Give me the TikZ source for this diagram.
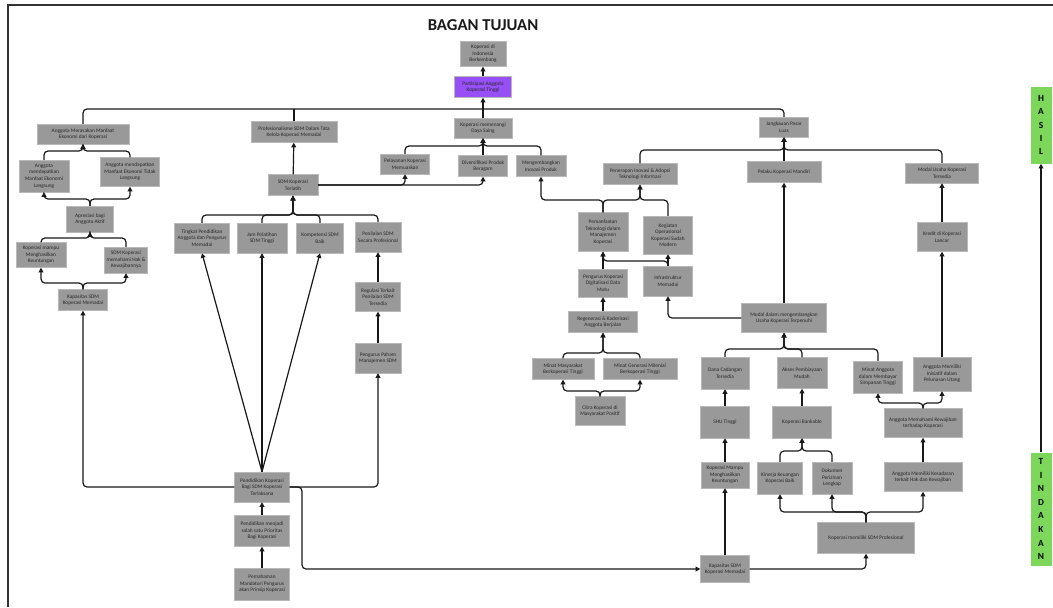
\documentclass[tikz,border=0pt]{standalone}
\usepackage{fontspec}
\setmainfont{Carlito}
\usetikzlibrary{arrows.meta}
\definecolor{boxgray}{RGB}{153,153,153}
\definecolor{boxedge}{RGB}{185,185,185}
\definecolor{purp}{RGB}{150,80,245}
\definecolor{grn}{RGB}{125,215,90}
\definecolor{lncol}{RGB}{25,25,25}
\newcommand\bx[7][boxgray]{\node[box,fill=#1,minimum width=#5*0.75pt,minimum height=#6*0.75pt] (#2) at (#3,#4) {#7};}
\begin{document}
\begin{tikzpicture}[x=0.75pt,y=-0.75pt,
 box/.style={draw=boxedge, line width=0.3pt, align=center, inner sep=0.5pt, font=\fontsize{4}{4.9}\selectfont, text=black!85},
 ln/.style={draw=lncol, line width=0.9pt, rounded corners=3pt},
 arr/.style={ln, -{Triangle[length=3.5pt,width=3.6pt]}},
 side/.style={fill=grn, draw=none, align=center, inner sep=0pt, font=\fontsize{7}{9.9}\selectfont\bfseries, minimum width=21*0.75pt},
]
\useasboundingbox (0,0) rectangle (1053,607);
\fill[white] (0,0) rectangle (1053,607);
\draw[line width=0.8pt, black!80] (8,607) -- (8,5) -- (1053,5);

\node[font=\fontsize{12.5}{14}\selectfont\bfseries, text=black!90] (title) at (483,25) {BAGAN TUJUAN};

% top
\bx{kid}{483}{54}{46}{25}{Koperasi di\\Indonesia\\Berkembang}
\bx[purp]{partis}{483}{87}{57}{21}{Partisipasi Anggota\\Koperasi Tinggi}

% left branch
\bx{meras}{83}{134}{92}{20}{Anggota Merasakan Manfaat\\Ekonomi dari Koperasi}
\bx{manL}{44}{176}{50}{32}{Anggota\\mendapatkan\\Manfaat Ekonomi\\Langsung}
\bx{manTL}{130}{172}{59}{29}{Anggota mendapatkan\\Manfaat Ekonomi Tidak\\Langsung}
\bx{apres}{90}{219}{47}{26}{Apresiasi bagi\\Anggota Aktif}
\bx{mampuL}{41}{255}{50}{25}{Koperasi mampu\\Menghasilkan\\Keuntungan}
\bx{sdmHak}{126}{260}{43}{26}{SDM Koperasi\\memahami Hak \&\\Kewajibannya}
\bx{kapL}{83}{300}{49}{21}{Kapasitas SDM\\Koperasi Memadai}

% middle-left branch
\bx{prof}{294}{132}{86}{21}{Profesionalisme SDM Dalam Tata\\Kelola Koperasi Memadai}
\bx{terlatih}{293}{185}{50}{21}{SDM Koperasi\\Terlatih}
\bx{ting}{202}{238}{55}{30}{Tingkat Pendidikan\\Anggota dan Pengurus\\Memadai}
\bx{jam}{262}{238}{50}{30}{Jam Pelatihan\\SDM Tinggi}
\bx{komp}{320}{238}{47}{30}{Kompetensi SDM\\Baik}
\bx{penil}{378}{237}{46}{30}{Penilaian SDM\\Secara Profesional}
\bx{regul}{378}{297}{45}{29}{Regulasi Terkait\\Penilaian SDM\\Tersedia}
\bx{pengPaham}{378}{358}{46}{30}{Pengurus Paham\\Manajemen SDM}
\bx{pendKop}{262}{487}{55}{30}{Pendidikan Koperasi\\Bagi SDM Koperasi\\Terlaksana}
\bx{pendMenjadi}{262}{531}{55}{31}{Pendidikan menjadi\\salah satu Prioritas\\Bagi Koperasi}
\bx{pemahaman}{262}{584}{55}{32}{Pemahaman\\Mandatori Pengurus\\akan Prinsip Koperasi}

% center branch
\bx{dayasaing}{483}{128}{58}{20}{Koperasi memenangi\\Daya Saing}
\bx{pelayanan}{405}{164}{49}{20}{Pelayanan Koperasi\\Memuaskan}
\bx{divers}{483}{166}{49}{21}{Diversifikasi Produk\\Beragam}
\bx{mengemb}{541}{166}{50}{21}{Mengembangkan\\Inovasi Produk}
\bx{pemanf}{603}{232}{50}{39}{Pemanfaatan\\Teknologi dalam\\Manajemen\\Koperasi}
\bx{penerapan}{640}{174}{74}{21}{Penerapan Inovasi \& Adopsi\\Teknologi Informasi}
\bx{keg}{668}{235}{49}{38}{Kegiatan\\Operasional\\Koperasi Sudah\\Modern}
\bx{infra}{668}{281}{49}{30}{Infrastruktur\\Memadai}
\bx{pengDigit}{603}{283}{49}{28}{Pengurus Koperasi\\Digitalisasi Data\\Mutu}
\bx{regen}{603}{322}{69}{21}{Regenerasi \& Kaderisasi\\Anggota Berjalan}
\bx{minatMas}{563}{369}{62}{21}{Minat Masyarakat\\Berkoperasi Tinggi}
\bx{minatGen}{640}{369}{74}{21}{Minat Generasi Milenial\\Berkoperasi Tinggi}
\bx{citra}{600}{411}{50}{29}{Citra Koperasi di\\Masyarakat Positif}

% right branch
\bx{jangk}{784}{127}{49}{20}{Jangkauan Pasar\\Luas}
\bx{pelaku}{784}{172}{74}{21}{Pelaku Koperasi Mandiri}
\bx{modalU}{942}{173}{73}{20}{Modal Usaha Koperasi\\Tersedia}
\bx{kredit}{942}{237}{50}{29}{Kredit di Koperasi\\Lancar}
\bx{modalDalam}{784}{318}{85}{29}{Modal dalam mengembangkan\\Usaha Koperasi Terpenuhi}
\bx{dana}{725}{373}{48}{32}{Dana Cadangan\\Tersedia}
\bx{akses}{802}{373}{50}{31}{Akses Pembiayaan\\Mudah}
\bx{minatAng}{878}{377}{49}{32}{Minat Anggota\\dalam Membayar\\Simpanan Tinggi}
\bx{angMemiliki}{942}{374}{58}{34}{Anggota Memiliki\\Inisiatif dalam\\Pelunasan Utang}
\bx{shu}{725}{422}{49}{32}{SHU Tinggi}
\bx{bankable}{802}{422}{59}{32}{Koperasi Bankable}
\bx{angMemahami}{923}{423}{78}{29}{Anggota Memahami Kewajiban\\terhadap Koperasi}
\bx{kopMampu2}{725}{475}{48}{26}{Koperasi Mampu\\Menghasilkan\\Keuntungan}
\bx{kinerja}{780}{478}{45}{32}{Kinerja Keuangan\\Koperasi Baik}
\bx{dokumen}{832}{478}{40}{32}{Dokumen\\Perizinan\\Lengkap}
\bx{angKesadaran}{923}{477}{78}{29}{Anggota Memiliki Kesadaran\\terkait Hak dan Kewajiban}
\bx{sdmProf}{866}{538}{97}{31}{Koperasi memiliki SDM Profesional}
\bx{kap2}{725}{569}{49}{27}{Kapasitas SDM\\Koperasi Memadai}

% side bars
\node[side, minimum height=77*0.75pt] (hasil) at (1041,125) {H\\A\\S\\I\\L};
\node[side, minimum height=113*0.75pt, font=\fontsize{7}{10.2}\selectfont\bfseries] (tindakan) at (1041,509) {T\\I\\N\\D\\A\\K\\A\\N};
\draw[arr] (tindakan) -- (hasil);

% ---- connectors ----
\draw[arr] (partis) -- (kid);
\draw[ln] (meras.north) |- (partis.south |- 0,109);
\draw[ln] (jangk.north) |- (partis.south |- 0,109);
\draw[ln] (prof.north) -- (prof.north |- 0,109);
\draw[arr] (dayasaing.north) -- (partis.south);

% left
\draw[arr] (apres.north) -- (apres.north |- 0,199) -| (manL.south);
\draw[arr] (apres.north) -- (apres.north |- 0,199) -| (manTL.south);
\draw[arr] (manL.north) |- (meras.south |- 0,151) -- (meras.south);
\draw[arr] (manTL.north) |- (meras.south |- 0,151) -- (meras.south);
\draw[arr] (kapL.north) -- (kapL.north |- 0,283) -| (mampuL.south);
\draw[arr] (kapL.north) -- (kapL.north |- 0,283) -| (sdmHak.south);
\draw[arr] (mampuL.north) |- (apres.south |- 0,238) -- (apres.south);
\draw[arr] (sdmHak.north) |- (apres.south |- 0,238) -- (apres.south);

% middle-left
\draw[arr] (terlatih) -- (prof);
\draw[arr] (terlatih.east) -| (pelayanan.south);
\draw[arr] (terlatih.east) -| (divers.south);
\foreach \n in {ting,jam,komp,penil}
  \draw[arr] (\n.north) |- (terlatih.south |- 0,215) -- (terlatih.south);
\draw[arr] (regul) -- (penil);
\draw[arr] (pengPaham) -- (regul);
\draw[arr] (pemahaman) -- (pendMenjadi);
\draw[arr] (pendMenjadi) -- (pendKop);
\draw[arr] (pendKop.north) -- (ting.south);
\draw[arr] (pendKop.north) -- (jam.south);
\draw[arr] (pendKop.north) -- (komp.south);
\draw[arr] (pendKop.west) -| (kapL.south);
\draw[arr] (pendKop.east) -| (pengPaham.south);
\draw[arr] (pendKop.east) -- (pendKop.east -| 302,0) |- (kap2.west);

% center
\foreach \n in {pelayanan,mengemb}
  \draw[arr] (\n.north) |- (dayasaing.south |- 0,146) -- (dayasaing.south);
\draw[arr] (divers) -- (dayasaing);
\draw[arr] (pemanf.north) -- (pemanf.north |- 0,200) -| (mengemb.south);
\draw[arr] (pemanf.north) -- (pemanf.north |- 0,200) -| (penerapan.south);
\draw[arr] (keg.north) |- (penerapan.south |- 0,200) -- (penerapan.south);
\draw[arr] (penerapan.north) |- (jangk.south |- 0,150) -- (jangk.south);
\draw[arr] (pelaku) -- (jangk);
\draw[arr] (modalU.north) |- (jangk.south |- 0,150) -- (jangk.south);
\draw[arr] (kredit) -- (modalU);
\draw[arr] (angMemiliki) -- (kredit);
\draw[arr] (modalDalam) -- (pelaku);
\draw[arr] (modalDalam.west) -| (infra.south);
\draw[arr] (infra) -- (keg);
\draw[arr] (pengDigit) -- (pemanf);
\draw[arr] (infra.north) |- (pemanf.south |- 0,261) -- (pemanf.south);
\draw[arr] (regen) -- (pengDigit);
\draw[arr] (minatMas.north) |- (regen.south |- 0,353) -- (regen.south);
\draw[arr] (minatGen.north) |- (regen.south |- 0,353) -- (regen.south);
\draw[arr] (citra.north) -- (citra.north |- 0,391) -| (minatMas.south);
\draw[arr] (citra.north) -- (citra.north |- 0,391) -| (minatGen.south);

% right lower
\foreach \n in {dana,akses,minatAng}
  \draw[arr] (\n.north) |- (modalDalam.south |- 0,349) -- (modalDalam.south);
\draw[arr] (shu) -- (dana);
\draw[arr] (bankable) -- (akses);
\draw[arr] (angMemahami.north) -- (angMemahami.north |- 0,403) -| (minatAng.south);
\draw[arr] (angMemahami.north) -- (angMemahami.north |- 0,403) -| (angMemiliki.south);
\draw[arr] (kopMampu2) -- (shu);
\draw[arr] (kinerja.north) |- (bankable.south |- 0,451) -- (bankable.south);
\draw[arr] (dokumen.north) |- (bankable.south |- 0,451) -- (bankable.south);
\draw[arr] (angKesadaran) -- (angMemahami);
\draw[arr] (sdmProf.north) -- (sdmProf.north |- 0,512) -| (kinerja.south);
\draw[arr] (sdmProf.north) -- (sdmProf.north |- 0,512) -| (dokumen.south);
\draw[arr] (sdmProf.north) -- (sdmProf.north |- 0,512) -| (angKesadaran.south);
\draw[arr] (kap2) -- (kopMampu2);
\draw[arr] (kap2.east) -| (sdmProf.south);
\end{tikzpicture}
\end{document}
